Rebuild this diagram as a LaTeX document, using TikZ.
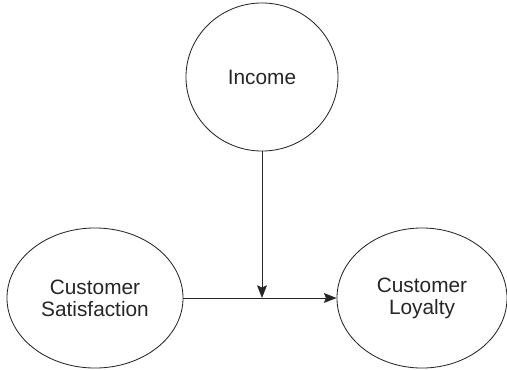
\documentclass[tikz,border=0pt]{standalone}
\usepackage{fontspec}
\setmainfont{Liberation Sans}
\usetikzlibrary{shapes.geometric,arrows.meta}

\begin{document}
\begin{tikzpicture}[x=0.025cm,y=-0.025cm,
    var/.style={ellipse,draw=black!85,line width=0.6pt,inner sep=0pt,align=center,
        font=\fontsize{14.8}{15.8}\selectfont,text=black!85},
    path/.style={draw=black!85,line width=0.6pt,-{Stealth[length=9pt,width=7pt,inset=1.5pt]}}]
    \useasboundingbox (0,0) rectangle (507,369);
    \node[var,minimum width=3.8cm,minimum height=3.7cm] (income) at (262,77) {Income};
    \node[var,minimum width=4.4cm,minimum height=3.5cm] (cust_sat) at (95,298) {Customer\\Satisfaction};
    \node[var,minimum width=4.25cm,minimum height=3.5cm] (cust_loy) at (422,298) {Customer\\Loyalty};
    \path[path] (cust_sat) -- (cust_loy);
    \path[path] (income.south) -- (income.south |- cust_sat.east);
\end{tikzpicture}
\end{document}
